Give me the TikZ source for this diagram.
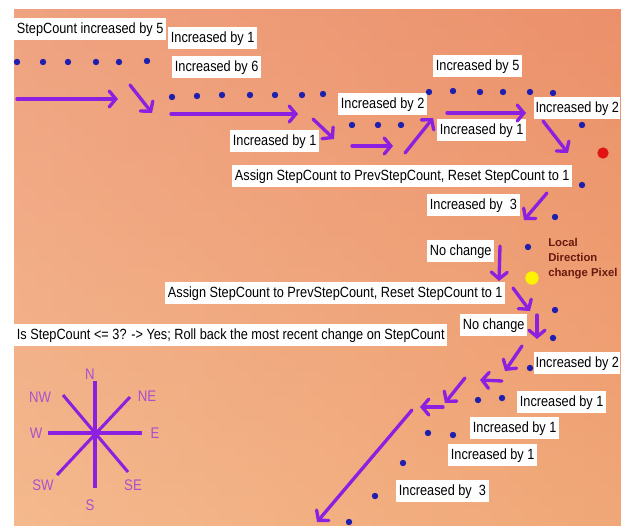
\documentclass[tikz,border=0pt]{standalone}
\usepackage{fontspec}
\setmainfont{Liberation Sans}
\newfontfamily\narrowfont[FakeStretch=0.86]{Liberation Sans}
\usetikzlibrary{arrows.meta}
\definecolor{arrowviolet}{RGB}{140,32,225}
\definecolor{dotblue}{RGB}{30,30,175}
\definecolor{bgtop}{RGB}{234,140,112}
\definecolor{bgbottom}{RGB}{243,182,135}
\definecolor{bgleft}{RGB}{246,190,150}
\definecolor{bgright}{RGB}{238,150,100}
\definecolor{compasstext}{RGB}{170,80,205}
\definecolor{localtext}{RGB}{105,25,15}
\begin{document}
\begin{tikzpicture}[x=0.75pt,y=-0.75pt,
  lbl/.style={fill=white, anchor=west, font=\narrowfont\fontsize{11.1}{12}\selectfont,
    inner xsep=2pt, inner ysep=2.5pt, text height=8.6pt, text depth=2.5pt},
  flow/.style={draw=arrowviolet, line width=2.5pt, line cap=round,
    -{Straight Barb[length=5pt,width=12pt,line cap=round]}},
  dotb/.style={circle, fill=dotblue, inner sep=0pt, minimum size=4.8pt},
  compline/.style={draw=arrowviolet, line width=2.3pt},
  comptext/.style={text=compasstext, font=\narrowfont\fontsize{11.5}{12}\selectfont, inner sep=0pt}
]
\useasboundingbox (0,0) rectangle (621,525);
\fill[white] (0,0) rectangle (621,525);
\shade[top color=bgtop, bottom color=bgbottom] (14,9) rectangle (621,525);
\shade[left color=bgleft, right color=bgright, opacity=0.45] (14,9) rectangle (621,525);

% labels
\node[lbl] (l1) at (14,29) {StepCount increased by 5};
\node[lbl] (l2) at (168,38) {Increased by 1};
\node[lbl] (l3) at (172,67) {Increased by 6};
\node[lbl] (l4) at (433,66) {Increased by 5};
\node[lbl] (l5) at (338,104) {Increased by 2};
\node[lbl, inner xsep=1pt] (l6) at (534,108) {Increased by 2};
\node[lbl] (l7) at (437,130) {Increased by 1};
\node[lbl] (l8) at (230,141) {Increased by 1};
\node[lbl] (l9) at (232,176) {Assign StepCount to PrevStepCount, Reset StepCount to 1};
\node[lbl] (l10) at (427,205) {Increased by\ \ 3};
\node[lbl] (l11) at (427,251) {No change};
\node[lbl] (l13) at (165,293) {Assign StepCount to PrevStepCount, Reset StepCount to 1};
\node[lbl] (l14) at (460,325) {No change};
\node[lbl] (l15) at (14,335) {Is StepCount <= 3? -> Yes; Roll back the most recent change on StepCount};
\node[lbl, inner xsep=1pt] (l16) at (534,363) {Increased by 2};
\node[lbl] (l17) at (517,402) {Increased by 1};
\node[lbl] (l18) at (470,428) {Increased by 1};
\node[lbl] (l19) at (448,455) {Increased by 1};
\node[lbl] (l20) at (396,491) {Increased by\ \ 3};

\node[anchor=north west, text=localtext, align=left, inner sep=0pt,
  font=\bfseries\fontsize{8.5}{11.2}\selectfont] (local) at (548,238)
  {Local\\Direction\\change Pixel};

% dots
\foreach \x/\y [count=\i] in {17/62,43/62,68/62,96/62,119/62,147/61,
  172/97,197/96,222/95,250/95,275/95,302/95,323/94,
  352/125,378/125,401/125,
  429/92,453/91,480/92,503/92,530/92,553/93,
  582/125,582/185,555/217,528/247,555/310,553/338,530/368,
  502/398,478/400,453/435,428/433,403/463,375/496,349/522}
  \node[dotb] (d\i) at (\x,\y) {};
\node[circle, fill={rgb,255:red,225;green,20;blue,20}, inner sep=0pt, minimum size=8.5pt] (reddot) at (603,153) {};
\node[circle, fill={rgb,255:red,255;green,242;blue,0}, inner sep=0pt, minimum size=10pt] (yellowdot) at (532,278) {};

% arrows
\draw[flow] (17,99) -- (118,99);
\draw[flow] (130,85) -- (152,113);
\draw[flow] (171,114) -- (298,114);
\draw[flow] (313,119) -- (334,139);
\draw[flow] (352,146) -- (393,146);
\draw[flow] (405,153) -- (433,118);
\draw[flow] (447,113) -- (526,113);
\draw[flow] (543,121) -- (568,153);
\draw[flow] (547,193) -- (524,220);
\draw[flow] (500,246) -- (499,281);
\draw[flow] (513,288) -- (530,311);
\draw[flow] (537,315) -- (537,339);
\draw[flow] (522,346) -- (505,371);
\draw[flow] (502,381) -- (480,380);
\draw[flow] (465,378) -- (445,403);
\draw[flow] (443,407) -- (420,407);
\draw[flow] (412,410) -- (317,522);

% compass
\coordinate (cc) at (95,433);
\draw[compline] (95,381) -- (95,488);
\draw[compline] (48,433) -- (142,433);
\draw[compline] (63,395) -- (128,472);
\draw[compline] (130,397) -- (57,475);
\node[comptext] (cN) at (90,374) {N};
\node[comptext] (cNW) at (40,397) {NW};
\node[comptext] (cNE) at (147,396) {NE};
\node[comptext] (cW) at (36,433) {W};
\node[comptext] (cE) at (155,433) {E};
\node[comptext] (cSW) at (43,485) {SW};
\node[comptext] (cSE) at (133,485) {SE};
\node[comptext] (cS) at (90,505) {S};
\end{tikzpicture}
\end{document}
